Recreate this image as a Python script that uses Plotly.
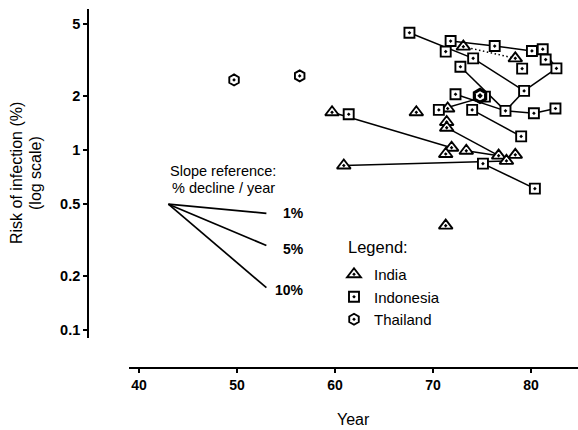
import math
import plotly.graph_objects as go

W, H = 578, 430
FONT = "Liberation Sans, Arial, Helvetica, sans-serif"

# ---------------- data ----------------
india_year = [59.7, 60.9, 68.3, 71.5, 71.4, 71.4, 71.9, 71.3, 73.4, 76.7, 77.5, 78.4, 71.3, 73.1, 78.4]
india_risk = [1.62, 0.82, 1.62, 1.70, 1.43, 1.33, 1.03, 0.95, 0.99, 0.93, 0.87, 0.94, 0.38, 3.75, 3.23]
india_links = [(0, 6), (1, 10), (5, 9), (8, 9)]
india_dotted_links = [(13, 14)]

indonesia_year = [67.6, 71.8, 71.3, 76.3, 80.1, 81.2, 81.5, 74.1, 72.8, 79.1, 82.6, 79.3,
                  72.3, 75.3, 70.6, 74.0, 77.4, 80.3, 82.5, 61.4, 79.0, 75.1, 80.4]
indonesia_risk = [4.48, 4.03, 3.52, 3.78, 3.55, 3.63, 3.18, 3.23, 2.90, 2.83, 2.84, 2.13,
                  2.04, 1.98, 1.67, 1.67, 1.65, 1.60, 1.70, 1.58, 1.19, 0.84, 0.61]
indonesia_links = [(0, 7), (1, 3), (3, 4), (5, 10), (7, 11), (11, 10), (8, 16), (11, 16),
                   (12, 16), (16, 17), (17, 18), (14, 13), (15, 20), (21, 22)]

thailand_year = [49.7, 56.4, 74.8]
thailand_risk = [2.45, 2.58, 2.00]
thailand_emphasis = [False, False, True]

slope_labels = ["1%", "5%", "10%"]
slope_start_year = 43
slope_start_risk = 0.5
slope_end_year = 53
slope_end_risk = [0.445, 0.295, 0.172]

x_ticks = [40, 50, 60, 70, 80]
y_ticks = [0.1, 0.2, 0.5, 1, 2, 5]
y_ticktext = ["0.1", "0.2", "0.5", "1", "2", "5"]


def link_xy(xs, ys, links):
    lx, ly = [], []
    for a, b in links:
        lx += [xs[a], xs[b], None]
        ly += [ys[a], ys[b], None]
    return lx, ly


fig = go.Figure()

# connecting lines
for xs, ys, links, dash in [
    (india_year, india_risk, india_links, "solid"),
    (india_year, india_risk, india_dotted_links, "1.5px,2.5px"),
    (indonesia_year, indonesia_risk, indonesia_links, "solid"),
]:
    lx, ly = link_xy(xs, ys, links)
    fig.add_trace(go.Scatter(x=lx, y=ly, mode="lines", showlegend=False, hoverinfo="skip",
                             line=dict(color="black", width=1.5, dash=dash)))

# slope reference lines
sx, sy = [], []
for r in slope_end_risk:
    sx += [slope_start_year, slope_end_year, None]
    sy += [slope_start_risk, r, None]
fig.add_trace(go.Scatter(x=sx, y=sy, mode="lines", showlegend=False, hoverinfo="skip",
                         line=dict(color="black", width=1.7)))

# markers
fig.add_trace(go.Scatter(x=india_year, y=india_risk, mode="markers", name="India",
                         marker=dict(symbol="triangle-up-dot", size=12, color="white",
                                     line=dict(color="black", width=1.9))))
fig.add_trace(go.Scatter(x=indonesia_year, y=indonesia_risk, mode="markers", name="Indonesia",
                         marker=dict(symbol="square-dot", size=10, color="white",
                                     line=dict(color="black", width=1.9))))
th_x = [x for x, e in zip(thailand_year, thailand_emphasis) if not e]
th_y = [y for y, e in zip(thailand_risk, thailand_emphasis) if not e]
th_xe = [x for x, e in zip(thailand_year, thailand_emphasis) if e]
th_ye = [y for y, e in zip(thailand_risk, thailand_emphasis) if e]
fig.add_trace(go.Scatter(x=th_x, y=th_y, mode="markers", name="Thailand", legendgroup="th",
                         marker=dict(symbol="hexagon-dot", size=11, color="white",
                                     line=dict(color="black", width=1.9))))
fig.add_trace(go.Scatter(x=th_xe, y=th_ye, mode="markers", name="Thailand", legendgroup="th",
                         showlegend=False,
                         marker=dict(symbol="hexagon-dot", size=13, color="white",
                                     line=dict(color="black", width=3.2))))

annotations = []
# slope labels
for lab, r, ys in zip(slope_labels, slope_end_risk, [0, -4, -2]):
    annotations.append(dict(x=57.0, y=math.log10(r), xref="x", yref="y", text=lab,
                            showarrow=False, xanchor="right", yanchor="middle", yshift=ys,
                            font=dict(family=FONT, size=14, color="black", weight="bold")))
annotations.append(dict(x=223 / W, y=1 - 171 / H, xref="paper", yref="paper",
                        text="Slope reference:", showarrow=False, xanchor="center", yanchor="middle",
                        font=dict(family=FONT, size=14.5, color="black")))
annotations.append(dict(x=223 / W, y=1 - 188 / H, xref="paper", yref="paper",
                        text="% decline / year", showarrow=False, xanchor="center", yanchor="middle",
                        font=dict(family=FONT, size=14.5, color="black")))
annotations.append(dict(x=346 / W, y=1 - 247 / H, xref="paper", yref="paper",
                        text="Legend:", showarrow=False, xanchor="left", yanchor="middle",
                        font=dict(family=FONT, size=16.5, color="black")))
# axis titles
annotations.append(dict(x=17 / W, y=1 - 173 / H, xref="paper", yref="paper",
                        text="Risk of infection (%)", showarrow=False, textangle=-90,
                        xanchor="center", yanchor="middle",
                        font=dict(family=FONT, size=16, color="black")))
annotations.append(dict(x=36 / W, y=1 - 173 / H, xref="paper", yref="paper",
                        text="(log scale)", showarrow=False, textangle=-90,
                        xanchor="center", yanchor="middle",
                        font=dict(family=FONT, size=16, color="black")))
annotations.append(dict(x=353 / W, y=1 - 419 / H, xref="paper", yref="paper",
                        text="Year", showarrow=False, xanchor="center", yanchor="middle",
                        font=dict(family=FONT, size=16, color="black")))

fig.update_layout(
    width=W, height=H,
    margin=dict(l=0, r=0, t=0, b=0),
    paper_bgcolor="white", plot_bgcolor="white",
    font=dict(family=FONT, color="black"),
    annotations=annotations,
    showlegend=True,
    legend=dict(x=334 / W, y=1 - 258 / H, xanchor="left", yanchor="top",
                bgcolor="rgba(0,0,0,0)", borderwidth=0,
                font=dict(family=FONT, size=15, color="black"), traceorder="normal"),
    xaxis=dict(domain=[129 / W, 1], range=[38.98, 84.80], anchor="free", position=1 - 368 / H,
               showline=True, linecolor="black", linewidth=1.7, ticks="outside", ticklen=4,
               tickwidth=1.5, tickcolor="black", tickvals=x_ticks, showgrid=False, zeroline=False,
               tickfont=dict(family=FONT, size=14, color="black", weight="bold"), automargin=False),
    yaxis=dict(type="log", domain=[1 - 338 / H, 1 - 9 / H], range=[-1.0444, 0.7833], anchor="free",
               position=88 / W, showline=True, linecolor="black", linewidth=1.7, ticks="outside",
               ticklen=4, tickwidth=1.5, tickcolor="black", tickvals=y_ticks, ticktext=y_ticktext,
               showgrid=False, zeroline=False,
               tickfont=dict(family=FONT, size=14.5, color="black", weight="bold"), automargin=False),
)

fig.write_html("out.html")
